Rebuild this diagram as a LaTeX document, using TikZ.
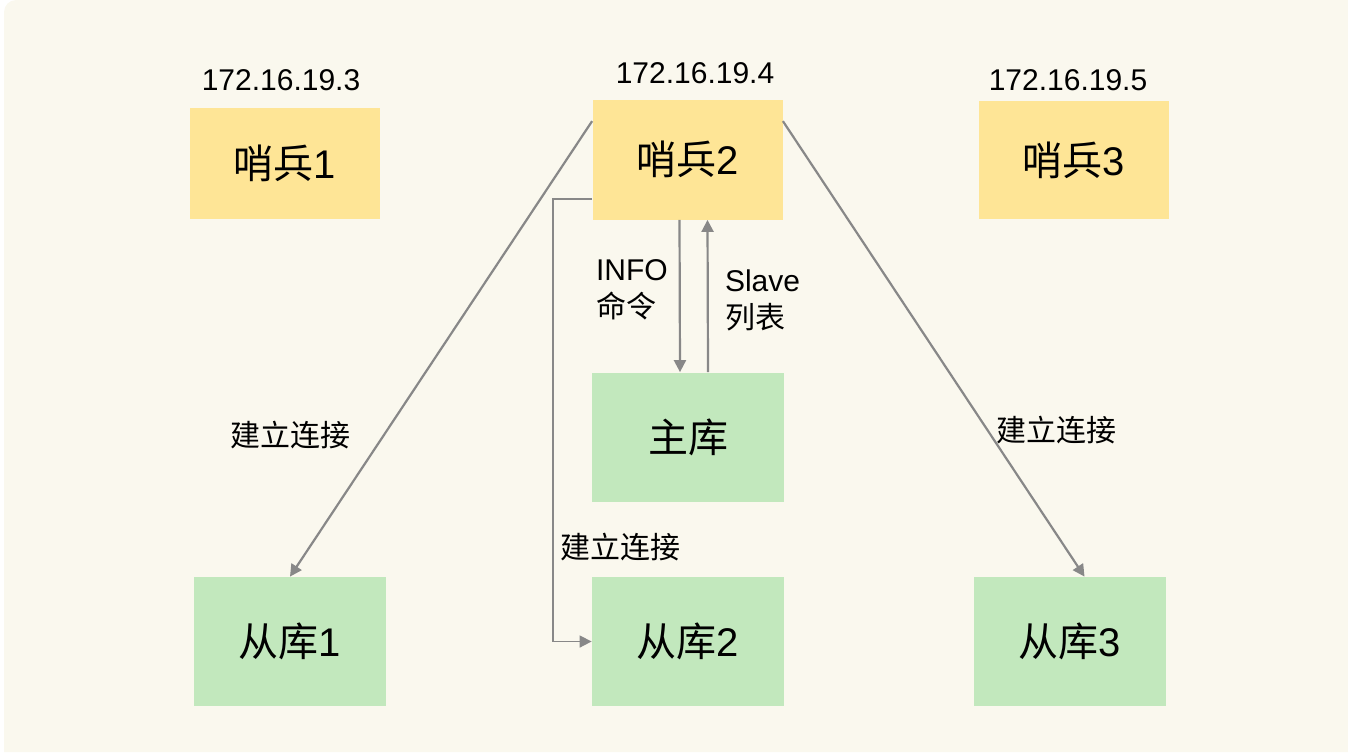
\documentclass[tikz,border=0pt]{standalone}
\usepackage{fontspec}
\setmainfont{Liberation Sans}
\newfontfamily\cjk{Noto Sans CJK SC}
\usetikzlibrary{arrows.meta, calc}
\definecolor{sen_yellow}{HTML}{FEE596}
\definecolor{db_green}{HTML}{C2E8BD}
\definecolor{bg_cream}{HTML}{FAF8EE}
\definecolor{link_gray}{HTML}{888888}

\begin{document}
\begin{tikzpicture}[x=0.5pt, y=-0.5pt, >={Triangle[length=6pt, width=6pt]},
  every node/.style={font=\fontsize{15}{18.5}\selectfont, text=black},
  senbox/.style={fill=sen_yellow, minimum width=95pt, minimum height=59pt, inner sep=0pt, font=\fontsize{20}{24}\selectfont},
  dbbox/.style={fill=db_green, minimum width=96pt, minimum height=64.5pt, inner sep=0pt, font=\fontsize{20}{24}\selectfont},
  link/.style={->, link_gray, line width=1.1pt}]

  % background, round only at the upper left
  \useasboundingbox (0,0) rectangle (1348,752);
  \fill[bg_cream] (4,752) [rounded corners=6pt] -- (4,0) [sharp corners] -- (1348,0) -- (1348,752) -- cycle;

  % sentinels
  \node[senbox, minimum height=55.5pt] (s1) at (285,163.5) {{\cjk 哨兵}1};
  \node[senbox, minimum height=60pt] (s2) at (687.5,159.5) {{\cjk 哨兵}2};
  \node[senbox] (s3) at (1073.5,160) {{\cjk 哨兵}3};

  \node (ip1) at (281,80) {172.16.19.3};
  \node (ip2) at (695,73) {172.16.19.4};
  \node (ip3) at (1068,80) {172.16.19.5};

  % master and replicas
  \node[dbbox] (m) at (688,437) {{\cjk 主库}};
  \node[dbbox] (r1) at (290,641.5) {{\cjk 从库}1};
  \node[dbbox] (r2) at (688,641.5) {{\cjk 从库}2};
  \node[dbbox] (r3) at (1069.5,641.5) {{\cjk 从库}3};

  \draw[link] ($(s2.south)+(-8,0)$) -- ($(m.north)+(-8,0)$);
  \draw[link] ($(m.north)+(20,0)$) -- ($(s2.south)+(20,0)$);
  \node[anchor=west, align=left] (info) at (589,290) {INFO\\{\cjk 命令}};
  \node[anchor=west, align=left] (slv) at (718,300) {Slave\\{\cjk 列表}};

  \draw[link] ($(s2.north west)+(0,22)$) -- (r1.north);
  \draw[link] ($(s2.north east)+(0,22)$) -- ($(r3.north)+(15,0)$);
  \draw[link, line width=0.8pt] ($(s2.south west)+(0,-21)$) -- ++(-39,0) |- (r2.west);

  \node (c1) at (290,435) {\cjk 建立连接};
  \node (c2) at (620,547) {\cjk 建立连接};
  \node (c3) at (1056,430) {\cjk 建立连接};

\end{tikzpicture}
\end{document}
